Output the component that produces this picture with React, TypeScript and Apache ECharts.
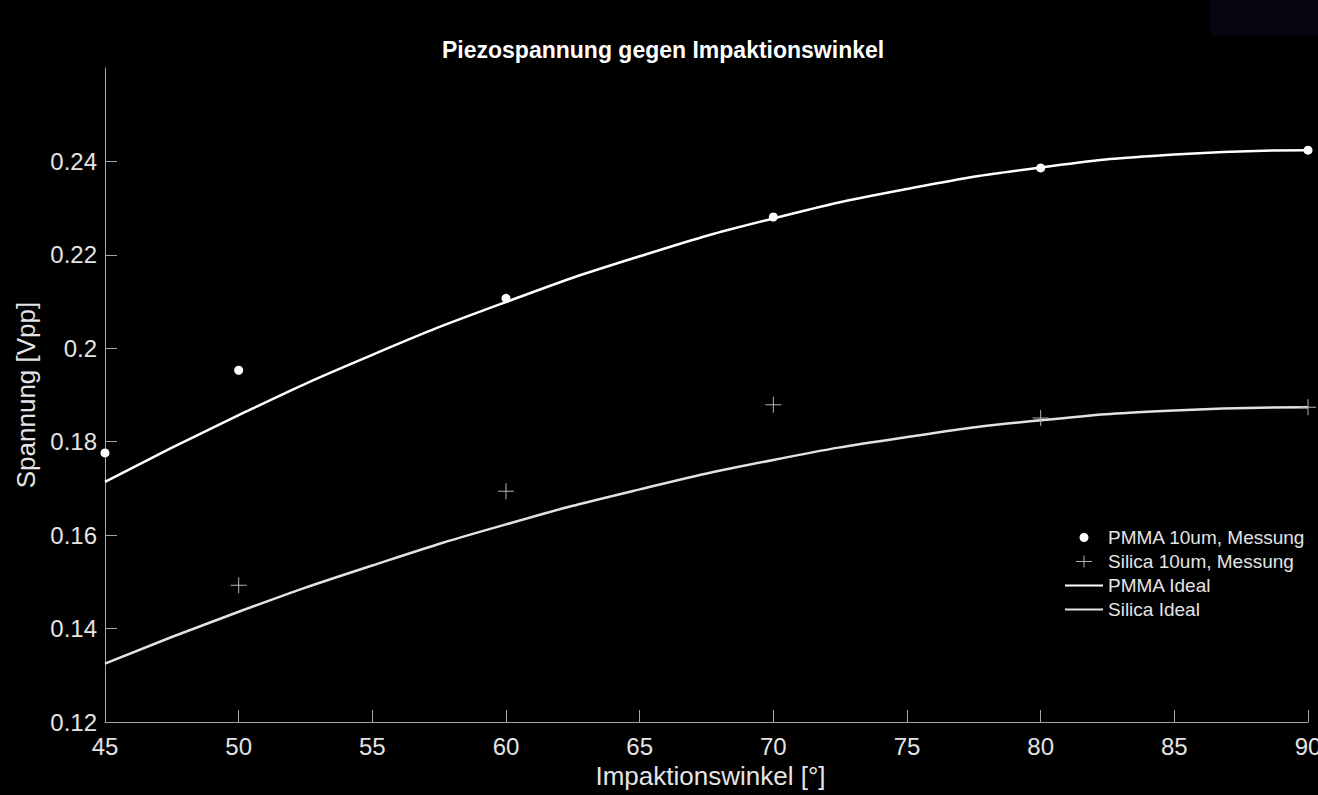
import React, { useEffect, useRef } from "react";
import * as echarts from "echarts";

const FONT = "'Liberation Sans', Arial, Helvetica, sans-serif";

// Measured points
const pmmaAngles = [45, 50, 60, 70, 80, 90];
const pmmaValues = [0.1776, 0.1953, 0.2107, 0.2281, 0.2386, 0.2424];
const silicaAngles = [50, 60, 70, 80, 90];
const silicaValues = [0.1493, 0.1694, 0.1879, 0.1851, 0.1874];

// Ideal curves
const idealAngles = [45, 50, 55, 60, 65, 70, 75, 80, 85, 90];
const pmmaIdeal = [0.1714, 0.1857, 0.1986, 0.2099, 0.2197, 0.2278, 0.2341, 0.2387, 0.2415, 0.2424];
const silicaIdeal = [0.1325, 0.1436, 0.1535, 0.1623, 0.1698, 0.1761, 0.181, 0.1846, 0.1867, 0.1874];

const yTicks = [0.12, 0.14, 0.16, 0.18, 0.2, 0.22, 0.24];

const seriesNames = [
  "PMMA 10um, Messung",
  "Silica 10um, Messung",
  "PMMA Ideal",
  "Silica Ideal",
];

const pair = (xs: number[], ys: number[]) => xs.map((x, i) => [x, ys[i]]);

const PLUS_SYMBOL = "path://M0,7.5H16V8.5H0Z M7.5,0H8.5V16H7.5Z";
const LEGEND_DOT =
  "path://M0,0L0.1,0L0,0.1Z M38,16L37.9,16L38,15.9Z M14.5,8a4.5,4.5 0 1,0 9,0a4.5,4.5 0 1,0 -9,0Z";
const LEGEND_PLUS =
  "path://M0,0L0.1,0L0,0.1Z M38,16L37.9,16L38,15.9Z M11,7.5H27V8.5H11Z M18.5,2H19.5V14H18.5Z";

export default function App() {
  const ref = useRef<HTMLDivElement>(null);

  useEffect(() => {
    if (!ref.current) return;
    const chart = echarts.init(ref.current, undefined, { renderer: "svg" });
    const axisColor = "#a6a6a6";
    const textColor = "#e4e4e4";
    chart.setOption({
      animation: false,
      backgroundColor: "#000000",
      title: {
        text: "Piezospannung gegen Impaktionswinkel",
        left: 442,
        top: 38,
        padding: 0,
        textStyle: {
          color: "#ffffff",
          fontSize: 23,
          fontWeight: "bold",
          fontFamily: FONT,
        },
      },
      graphic: [
        {
          type: "rect",
          right: 0,
          top: 0,
          shape: { width: 108, height: 36 },
          style: { fill: "#05060d" },
          silent: true,
        },
      ],
      grid: {
        left: 105,
        right: 10,
        top: 68,
        bottom: 73,
        containLabel: false,
        outerBoundsMode: "none",
      },
      legend: {
        orient: "vertical",
        left: 1064,
        top: 528,
        itemWidth: 38,
        itemHeight: 16,
        itemGap: 5,
        padding: 0,
        textStyle: {
          color: textColor,
          fontSize: 19,
          lineHeight: 18.5,
          fontFamily: FONT,
        },
        data: [
          { name: seriesNames[0], icon: LEGEND_DOT, itemStyle: { color: "#ffffff" } },
          { name: seriesNames[1], icon: LEGEND_PLUS },
          { name: seriesNames[2], itemStyle: { opacity: 0 } },
          { name: seriesNames[3], itemStyle: { opacity: 0 } },
        ],
      },
      xAxis: {
        type: "value",
        min: 45,
        max: 90,
        interval: 5,
        name: "Impaktionswinkel [°]",
        nameLocation: "middle",
        nameGap: 36,
        nameTextStyle: { color: textColor, fontSize: 26, fontFamily: FONT, padding: [0, 0, 0, 8] },
        axisLine: { show: true, lineStyle: { color: axisColor, width: 1 } },
        axisTick: { show: true, inside: true, length: 12, lineStyle: { color: axisColor } },
        axisLabel: { color: textColor, fontSize: 24, margin: 12, fontFamily: FONT },
        splitLine: { show: false },
      },
      yAxis: {
        type: "value",
        min: 0.12,
        max: 0.26,
        interval: 0.02,
        name: "Spannung [Vpp]",
        nameLocation: "middle",
        nameGap: 53,
        nameTextStyle: { color: textColor, fontSize: 26, fontFamily: FONT },
        axisLine: { show: true, lineStyle: { color: axisColor, width: 1 } },
        axisTick: {
          show: true,
          inside: true,
          length: 12,
          lineStyle: { color: axisColor },
          customValues: yTicks,
        },
        axisLabel: {
          color: textColor,
          fontSize: 24,
          margin: 8,
          fontFamily: FONT,
          customValues: yTicks,
          formatter: (v: number) => String(+v.toFixed(2)),
        },
        splitLine: { show: false },
      },
      series: [
        {
          name: seriesNames[2],
          type: "line",
          data: pair(idealAngles, pmmaIdeal),
          smooth: true,
          symbol: "none",
          lineStyle: { color: "#ffffff", width: 2.5 },
          itemStyle: { color: "#ffffff" },
          z: 2,
        },
        {
          name: seriesNames[3],
          type: "line",
          data: pair(idealAngles, silicaIdeal),
          smooth: true,
          symbol: "none",
          lineStyle: { color: "#e2e2e2", width: 2.5 },
          itemStyle: { color: "#e2e2e2" },
          z: 2,
        },
        {
          name: seriesNames[0],
          type: "scatter",
          data: pair(pmmaAngles, pmmaValues),
          symbol: "circle",
          symbolSize: 9,
          itemStyle: { color: "#ffffff", opacity: 1 },
          z: 3,
        },
        {
          name: seriesNames[1],
          type: "scatter",
          data: pair(silicaAngles, silicaValues),
          symbol: PLUS_SYMBOL,
          symbolSize: 16,
          itemStyle: { color: "#b4b4b4", opacity: 1 },
          z: 3,
        },
      ],
    });
    return () => chart.dispose();
  }, []);

  return (
    <div
      ref={ref}
      style={{ position: "fixed", left: 0, top: 0, width: 1318, height: 795, background: "#000" }}
    />
  );
}
